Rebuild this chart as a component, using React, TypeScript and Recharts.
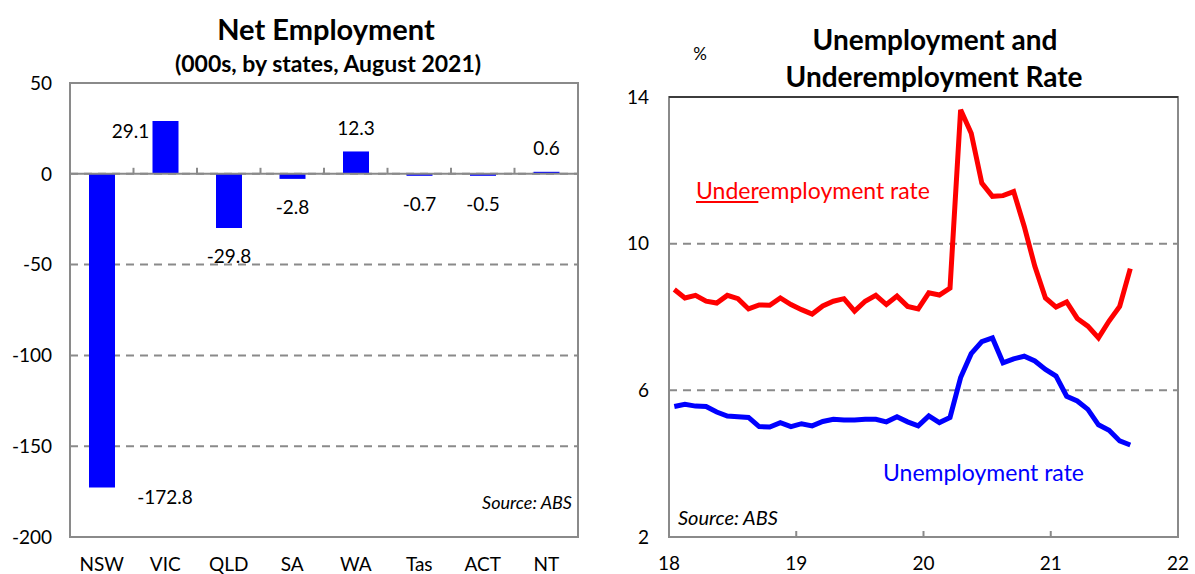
import React from 'react'
import {
  BarChart,
  Bar,
  LineChart,
  Line,
  XAxis,
  YAxis,
  CartesianGrid,
  ReferenceArea,
  ReferenceLine,
  LabelList,
} from 'recharts'

// net employment change by state, 000s, August 2021
const states = ['NSW', 'VIC', 'QLD', 'SA', 'WA', 'Tas', 'ACT', 'NT']
const netEmployment = [-172.8, 29.1, -29.8, -2.8, 12.3, -0.7, -0.5, 0.6]
const barTicks = [-200, -150, -100, -50, 0, 50]

// monthly rates, Jan 2018 .. Aug 2021 (%)
const underemployment = [
  8.75, 8.52, 8.59, 8.43, 8.38, 8.59, 8.5, 8.22, 8.33, 8.32, 8.52, 8.34,
  8.2, 8.08, 8.3, 8.43, 8.5, 8.16, 8.43, 8.59, 8.34, 8.57, 8.29, 8.22,
  8.66, 8.6, 8.79, 13.65, 13.01, 11.65, 11.29, 11.31, 11.42, 10.47, 9.38, 8.52,
  8.27, 8.41, 7.96, 7.75, 7.43, 7.89, 8.29, 9.32,
]
const unemployment = [
  5.56, 5.62, 5.57, 5.56, 5.41, 5.3, 5.28, 5.26, 5.01, 5.0, 5.12, 5.01,
  5.09, 5.03, 5.15, 5.21, 5.19, 5.19, 5.21, 5.21, 5.14, 5.28, 5.14, 5.03,
  5.3, 5.12, 5.26, 6.35, 7.0, 7.33, 7.43, 6.75, 6.86, 6.93, 6.8, 6.57,
  6.39, 5.84, 5.71, 5.48, 5.06, 4.91, 4.62, 4.51,
]
const yearTicks = [18, 19, 20, 21, 22]
const rateTicks = [2, 6, 10, 14]

const barData = states.map((state, i) => ({ state, value: netEmployment[i] }))
// mid-month position on a year axis (18 = start of 2018)
const lineData = underemployment.map((u, i) => ({
  t: 18 + (i + 0.5) / 12,
  under: u,
  unemp: unemployment[i],
}))

const FONT = 'Lato, "Open Sans", sans-serif'
const GREY = '#8a8a8a'
const tickStyle = { fill: '#000', fontSize: 19, fontFamily: FONT }

// labels for the two long bars sit beside them, like the original
const LABEL_SHIFT: Record<string, [number, number]> = {
  NSW: [63, 9],
  VIC: [-35, 10],
}

const BarValueLabel = (props: any) => {
  const { x, y, width, height, value, index } = props
  const top = Math.min(y, y + height)
  const bottom = Math.max(y, y + height)
  const cx = x + width / 2
  const shift = LABEL_SHIFT[states[index]]
  let tx = cx
  let ty = value >= 0 ? top - 24 : bottom + 28
  if (shift) {
    tx = cx + shift[0]
    ty = (value >= 0 ? top : bottom) + shift[1]
  }
  return (
    <text x={tx} y={ty} textAnchor="middle" dominantBaseline="central" fill="#000" fontSize={19} fontFamily={FONT}>
      {value}
    </text>
  )
}

// zero line with small upward ticks between the categories
const ZeroAxis = (props: any) => {
  const { x1, x2, y1 } = props
  const step = (x2 - x1) / states.length
  return (
    <g>
      <line x1={x1} x2={x2} y1={y1} y2={y1} stroke={GREY} strokeWidth={2} />
      {states.slice(1).map((s, k) => (
        <line key={s} x1={x1 + step * (k + 1)} x2={x1 + step * (k + 1)} y1={y1} y2={y1 - 6} stroke={GREY} strokeWidth={2} />
      ))}
    </g>
  )
}

const Txt = ({ x, y, size, children, bold, italic, color, align = 'center' }: any) => (
  <div
    style={{
      position: 'absolute',
      left: x,
      top: y - size / 2,
      transform: align === 'center' ? 'translateX(-50%)' : align === 'right' ? 'translateX(-100%)' : undefined,
      fontSize: size,
      lineHeight: 1,
      fontWeight: bold ? 700 : 400,
      fontStyle: italic ? 'italic' : 'normal',
      color: color || '#000',
      whiteSpace: 'nowrap',
      fontFamily: FONT,
    }}
  >
    {children}
  </div>
)

export default function App() {
  return (
    <div style={{ position: 'absolute', left: 0, top: 0, width: 1195, height: 574, background: '#fff', overflow: 'hidden' }}>
      <div style={{ position: 'absolute', left: 0, top: 0 }}>
        <BarChart width={600} height={574} data={barData} margin={{ top: 83, right: 22, bottom: 7, left: 15 }}>
          <CartesianGrid vertical={false} stroke={GREY} strokeWidth={2} strokeDasharray="8 6" />
          <XAxis
            dataKey="state"
            axisLine={false}
            tickLine={false}
            tickSize={0}
            tickMargin={21}
            height={30}
            interval={0}
            tick={tickStyle}
          />
          <YAxis
            domain={[-200, 50]}
            ticks={barTicks}
            width={55}
            axisLine={false}
            tickLine={false}
            tickSize={0}
            tickMargin={18}
            tick={tickStyle}
          />
          <ReferenceArea y1={-200} y2={50} fill="none" stroke={GREY} strokeWidth={2} />
          <ReferenceLine y={0} stroke={GREY} strokeWidth={2} shape={ZeroAxis} />
          <Bar dataKey="value" fill="#0000ff" barSize={26} minPointSize={2} isAnimationActive={false}>
            <LabelList dataKey="value" content={BarValueLabel} />
          </Bar>
        </BarChart>
      </div>

      <div style={{ position: 'absolute', left: 600, top: 0 }}>
        <LineChart width={595} height={574} data={lineData} margin={{ top: 97, right: 17, bottom: 7, left: 19 }}>
          <CartesianGrid vertical={false} stroke={GREY} strokeWidth={2} strokeDasharray="8 6" />
          <XAxis
            type="number"
            dataKey="t"
            domain={[18, 22]}
            ticks={yearTicks}
            axisLine={false}
            tickLine={{ stroke: GREY, strokeWidth: 2 }}
            tickSize={-6}
            tickMargin={26}
            height={30}
            tick={tickStyle}
          />
          <YAxis
            domain={[2, 14]}
            ticks={rateTicks}
            width={50}
            axisLine={false}
            tickLine={false}
            tickSize={0}
            tickMargin={20}
            tick={tickStyle}
          />
          <ReferenceArea y1={2} y2={14} fill="none" stroke={GREY} strokeWidth={2} />
          <ReferenceLine y={14} stroke="#222" strokeWidth={1.5} />
          <Line type="linear" dataKey="under" stroke="#ff0000" strokeWidth={5} dot={false} isAnimationActive={false} />
          <Line type="linear" dataKey="unemp" stroke="#0000ff" strokeWidth={5} dot={false} isAnimationActive={false} />
        </LineChart>
      </div>

      <Txt x={326} y={28} size={29} bold>Net Employment</Txt>
      <Txt x={328} y={63} size={23} bold>(000s, by states, August 2021)</Txt>
      <Txt x={572} y={502} size={18} italic align="right">Source: ABS</Txt>

      <Txt x={935} y={39} size={28} bold>Unemployment and</Txt>
      <Txt x={934} y={76} size={28} bold>Underemployment Rate</Txt>
      <Txt x={700} y={53} size={17}>%</Txt>
      <Txt x={696} y={190} size={23} color="#ff0000" align="left">
        <span style={{ textDecoration: 'underline' }}>Under</span>employment rate
      </Txt>
      <Txt x={883} y={472} size={23} color="#0000ff" align="left">Unemployment rate</Txt>
      <Txt x={678} y={517} size={20} italic align="left">Source: ABS</Txt>
    </div>
  )
}
